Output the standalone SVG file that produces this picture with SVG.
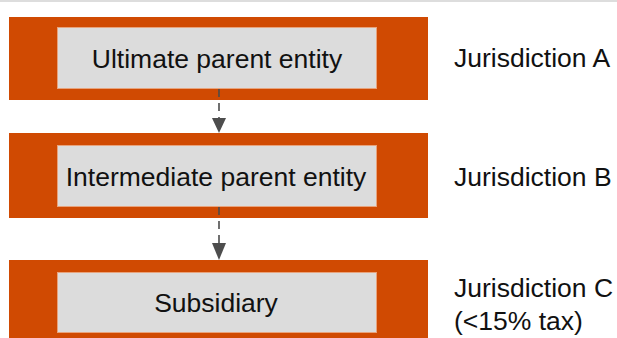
<svg xmlns="http://www.w3.org/2000/svg" width="617" height="338" viewBox="0 0 617 338">
  <defs>
    <style>
      .band { fill: #d04a02; }
      .box { fill: #dcdcdc; stroke: #e8a37c; stroke-width: 1; }
      .lbl { font-family: "Liberation Sans", Arial, sans-serif; font-size: 26.5px; fill: #111111; }
      .mid { text-anchor: middle; }
      .conn { stroke: #4d4d4d; stroke-width: 1.6; stroke-dasharray: 8 6; fill: none; }
      .head { fill: #4d4d4d; }
    </style>
  </defs>
  <rect x="0" y="0" width="617" height="2" fill="#dddddd"/>

  <g id="node-ultimate">
    <rect class="band" x="9" y="17" width="419" height="83"/>
    <rect class="box" x="57.5" y="27.5" width="319" height="61"/>
    <text class="lbl mid" x="217" y="68">Ultimate parent entity</text>
  </g>
  <g id="node-intermediate">
    <rect class="band" x="9" y="133" width="419" height="85"/>
    <rect class="box" x="57.5" y="145.5" width="319" height="61"/>
    <text class="lbl mid" x="216" y="186">Intermediate parent entity</text>
  </g>
  <g id="node-subsidiary">
    <rect class="band" x="9" y="260" width="419" height="78"/>
    <rect class="box" x="57.5" y="272.5" width="319" height="60"/>
    <text class="lbl mid" x="216" y="312">Subsidiary</text>
  </g>

  <g id="labels">
    <text class="lbl" x="454" y="67">Jurisdiction A</text>
    <text class="lbl" x="454" y="186">Jurisdiction B</text>
    <text class="lbl" x="454" y="297">Jurisdiction C</text>
    <text class="lbl" x="454" y="330">(&lt;15% tax)</text>
  </g>

  <g id="connectors">
    <line class="conn" x1="219" y1="89" x2="219" y2="119"/>
    <path class="head" d="M212,118 L226,118 L219,133 Z"/>
    <line class="conn" x1="219" y1="207" x2="219" y2="244"/>
    <path class="head" d="M212,243 L226,243 L219,260 Z"/>
  </g>
</svg>
